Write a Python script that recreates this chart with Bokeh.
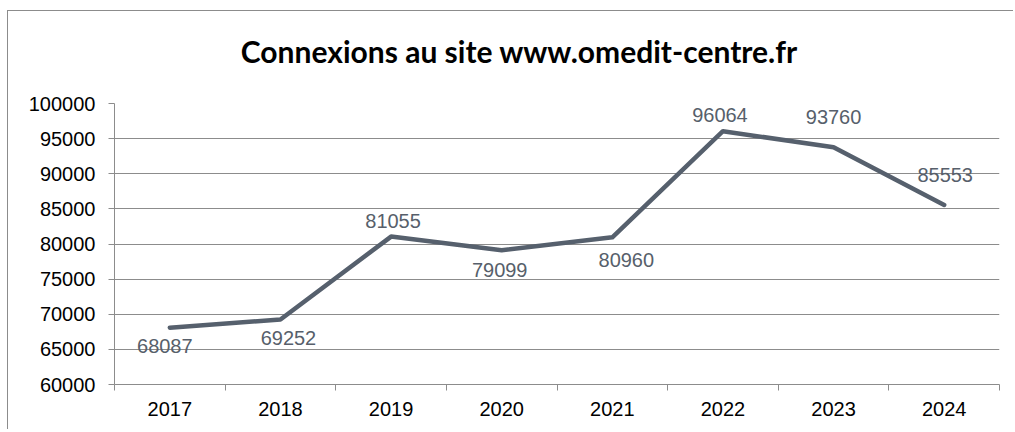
from bokeh.plotting import figure
from bokeh.models import FixedTicker, Range1d, ColumnDataSource, Div, Column
from bokeh.core.properties import value
from bokeh.embed import file_html
from bokeh.resources import INLINE

# ---- data ----
years = ["2017", "2018", "2019", "2020", "2021", "2022", "2023", "2024"]
connexions = [68087, 69252, 81055, 79099, 80960, 96064, 93760, 85553]
y_ticks = [60000, 65000, 70000, 75000, 80000, 85000, 90000, 95000, 100000]
title_text = "Connexions au site www.omedit-centre.fr"

# label placement (style, pixels)
label_dx = [-5, 8, 2, -2, 14, -3, 0, 1]
label_dy = [18, 18, -16, 20, 23, -16, -30, -30]

GRID = "#8c8c8c"
LINE = "#56606d"
LABEL = "#575f6b"
FONT = "Liberation Sans"

n = len(years)
xs = [i + 0.5 for i in range(n)]

W = 1005
title_div = Div(text=title_text, width=W, height=80, margin=0,
                styles={"font-family": "Lato", "font-weight": "bold",
                        "font-size": "30px", "line-height": "80px",
                        "text-align": "center", "padding-left": "17px",
                        "box-sizing": "border-box", "color": "#000000",
                        "background": "white", "white-space": "nowrap"})

p = figure(width=W, height=338,
           x_range=Range1d(0, n), y_range=Range1d(y_ticks[0], y_ticks[-1]),
           output_backend="svg", toolbar_location=None,
           min_border_left=106, min_border_right=W - 106 - 885,
           min_border_top=12, min_border_bottom=45)
p.margin = 0
p.outline_line_color = None
p.background_fill_color = "white"
p.border_fill_color = "white"

# grid
p.xgrid.visible = False
p.ygrid.ticker = FixedTicker(ticks=y_ticks)
p.ygrid.grid_line_color = GRID
p.ygrid.grid_line_width = 1

# x axis
p.xaxis.ticker = FixedTicker(ticks=xs, minor_ticks=list(range(n + 1)))
p.xaxis.major_label_overrides = {x: y for x, y in zip(xs, years)}
p.xaxis.major_tick_out = 0
p.xaxis.major_tick_in = 0
p.xaxis.minor_tick_out = 6
p.xaxis.minor_tick_in = 0
p.xaxis.minor_tick_line_color = GRID
p.xaxis.axis_line_color = GRID
p.xaxis.major_label_text_font = FONT
p.xaxis.major_label_text_font_size = "20px"
p.xaxis.major_label_text_color = "#000000"
p.xaxis.major_label_standoff = 11

# y axis
p.yaxis.ticker = FixedTicker(ticks=y_ticks, minor_ticks=[])
p.yaxis.major_label_overrides = {t: str(t) for t in y_ticks}
p.yaxis.major_tick_out = 6
p.yaxis.major_tick_in = 0
p.yaxis.major_tick_line_color = GRID
p.yaxis.minor_tick_line_color = None
p.yaxis.axis_line_color = GRID
p.yaxis.major_label_text_font = FONT
p.yaxis.major_label_text_font_size = "20px"
p.yaxis.major_label_text_color = "#000000"
p.yaxis.major_label_standoff = 13

src = ColumnDataSource(dict(x=xs, y=connexions,
                            txt=[str(v) for v in connexions],
                            dx=label_dx, dy=label_dy))
p.line("x", "y", source=src, line_color=LINE, line_width=4.5,
       line_join="round", line_cap="round")
p.text("x", "y", text="txt", source=src, x_offset="dx", y_offset="dy",
       text_align="center", text_baseline="middle",
       text_font=value(FONT), text_font_size="20px", text_color=LABEL)

layout = Column(children=[title_div, p], spacing=0,
                styles={"margin-left": "7px", "margin-top": "10px",
                        "border-top": f"1px solid {GRID}",
                        "border-left": f"1px solid {GRID}",
                        "background": "white"})

open("out.html", "w").write(file_html(layout, INLINE))
